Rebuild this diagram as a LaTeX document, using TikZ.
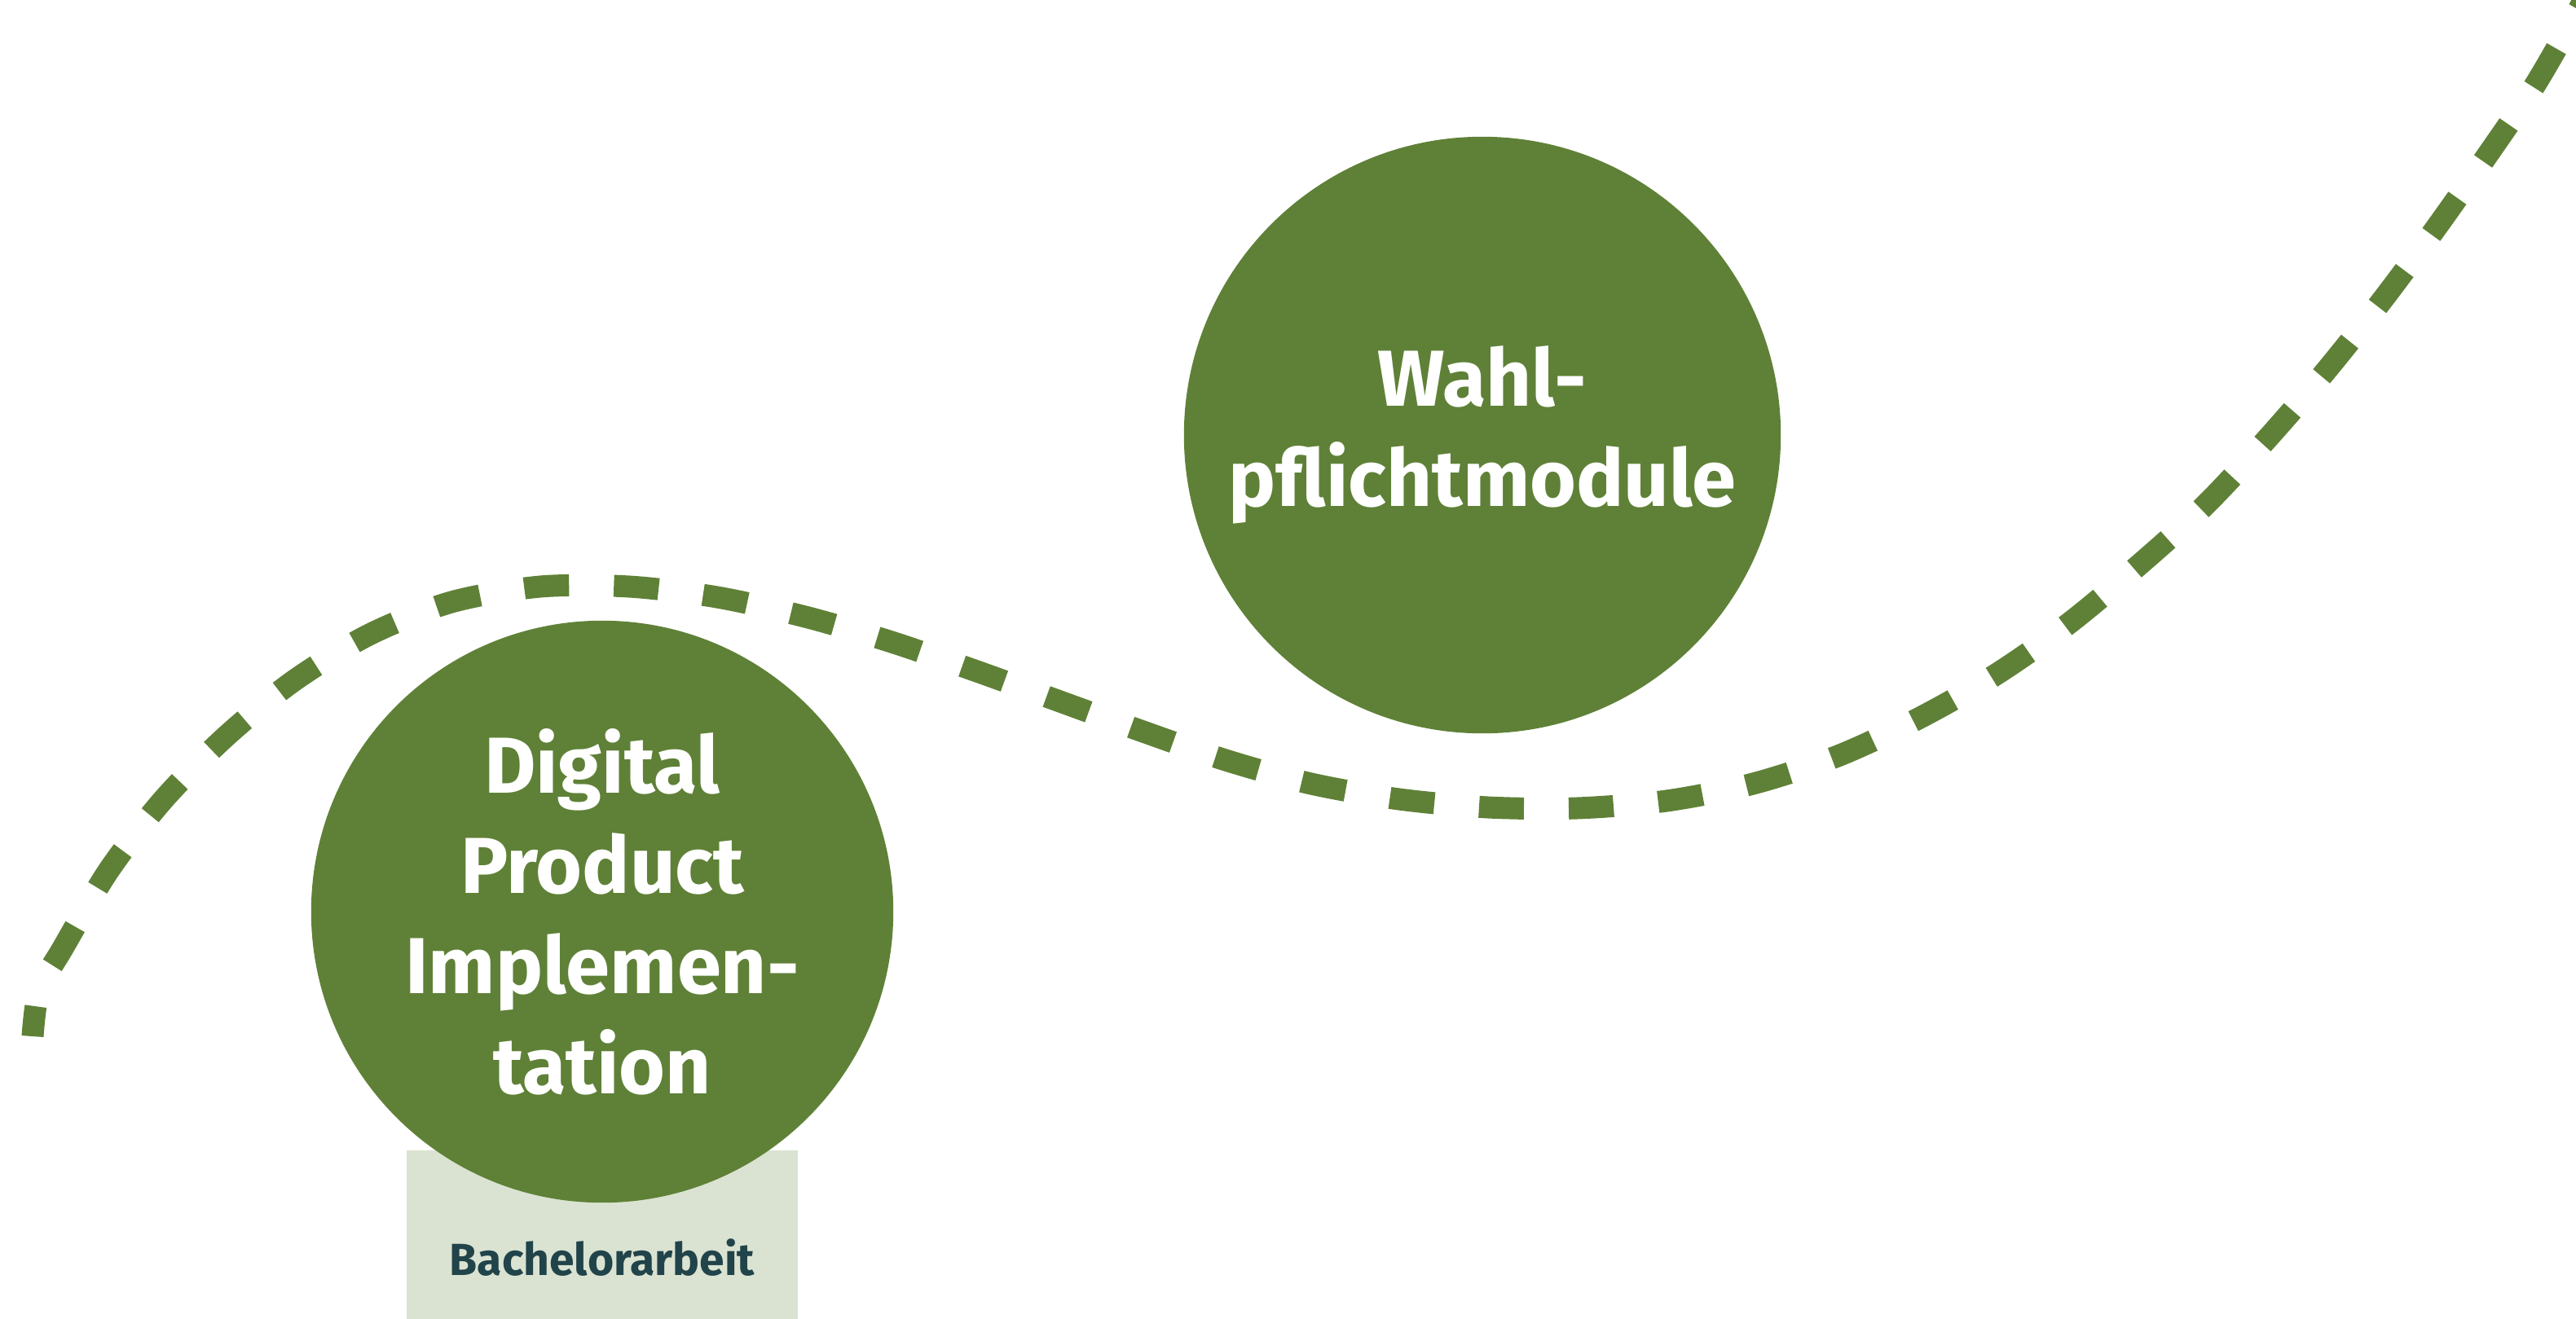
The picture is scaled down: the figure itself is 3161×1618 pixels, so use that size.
\documentclass[tikz,border=0pt]{standalone}
\usepackage{fontspec}
\setmainfont{Fira Sans}
\usetikzlibrary{positioning}
\definecolor{modgreen}{RGB}{95,129,55}
\definecolor{balight}{RGB}{218,227,209}
\definecolor{badark}{RGB}{33,67,74}

\begin{document}
\begin{tikzpicture}[x=0.01cm, y=-0.01cm,
                modul/.style = {shape=circle, fill=modgreen, text=white, align=center,
                                minimum size=7.14cm, inner sep=0pt,
                                font=\bfseries\fontsize{27.7}{35}\selectfont},
                arbeit/.style = {shape=rectangle, fill=balight, text=badark,
                                 minimum width=4.79cm, minimum height=2.64cm,
                                 font=\bfseries\fontsize{15.7}{19}\selectfont},
                weg/.style = {draw=modgreen, line width=0.27cm,
                              dash pattern=on 0.55cm off 0.55cm, dash phase=0.18cm}]
            \useasboundingbox (0,0) rectangle (3161,1618);
            \clip (0,0) rectangle (3161,1618);

            % gestrichelter Weg
            \draw[weg] plot[smooth, tension=0.5] coordinates {
                (40,1272) (48,1215) (77,1164) (133,1069) (200,982) (276,905) (360,836)
                (453,779) (554,739) (663,720) (772,720) (880,733) (988,757)
                (1091,787) (1196,823) (1298,860) (1400,897) (1504,933) (1609,962)
                (1717,981) (1826,991) (1935,992) (2045,983) (2151,962) (2255,928)
                (2354,882) (2449,828) (2539,765) (2623,695) (2704,622) (2779,542)
                (2851,459) (2919,374) (2984,287) (3047,198) (3109,107) (3156,26) (3172,-2)};

            \node[arbeit] (q_bachelor) at (739,1544) {Bachelorarbeit};
            \node[modul] (q_dpi) at (739,1119) {Digital\\ Product\\ Implemen-\\ tation};
            \node[modul, minimum size=7.32cm] (q_wahl) at (1819,534) {Wahl-\\ pflichtmodule};
\end{tikzpicture}
\end{document}
